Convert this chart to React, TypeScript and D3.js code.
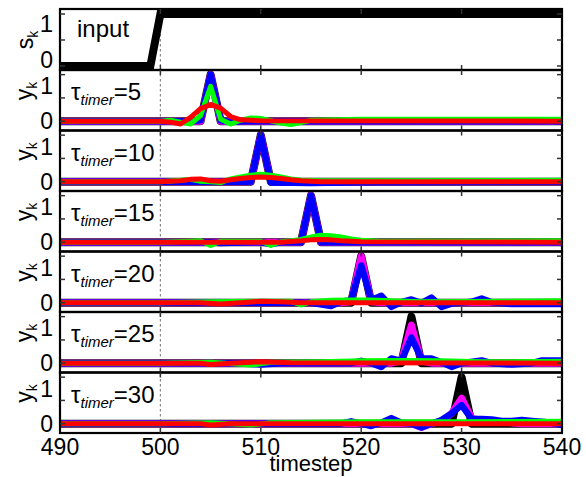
import React from "react";
import * as d3 from "d3";

type P = [number, number];

const taus = [5, 10, 15, 20, 25, 30];
const xTickValues = [490, 500, 510, 520, 530, 540];
const yTickValues = [0, 0.5, 1];

const inputS: P[] = [[490, 0], [499, 0], [500, 1], [540, 1]];

// tau = 5
const black5: P[] = [[490, 0], [504, 0], [505, 1], [506, 0], [540, 0]];
const magenta5: P[] = [[490, 0], [504, 0], [505, 1], [506, 0], [540, 0]];
const blue5: P[] = [[490, 0], [503, 0], [504, 0.02], [505, 1], [506, 0.02], [507, -0.02], [508, 0], [540, 0]];
const green5: P[] = [[490, 0], [500, 0], [501, 0.02], [502, -0.02], [503, -0.06], [504, 0.12], [505, 0.75], [506, 0.04], [507, -0.06], [508, 0.02], [509, 0.07], [510, 0.06], [511, 0.01], [512, -0.04], [513, -0.07], [514, -0.03], [515, 0.02], [520, 0.04], [540, 0.04]];
const red5: P[] = [[490, 0], [500, 0], [501, -0.02], [502, -0.06], [503, 0.08], [504, 0.27], [505, 0.36], [506, 0.28], [507, 0.1], [508, 0.03], [510, 0.01], [540, 0]];

// tau = 10
const black10: P[] = [[490, 0], [509, 0], [510, 1], [511, 0], [540, 0]];
const magenta10: P[] = [[490, 0], [509, 0], [510, 1], [511, 0], [540, 0]];
const blue10: P[] = [[490, 0], [509, 0], [510, 1], [511, -0.02], [515, -0.03], [520, -0.01], [540, 0]];
const green10: P[] = [[490, 0], [500, 0], [502, 0.03], [503, 0.05], [504, 0.01], [505, 0], [506, -0.02], [507, 0.06], [508, 0.1], [509, 0.14], [510, 0.16], [511, 0.14], [512, 0.1], [513, 0.06], [514, 0.03], [516, 0.02], [540, 0.03]];
const red10: P[] = [[490, 0], [500, 0], [502, 0.02], [503, 0.05], [504, 0.06], [505, 0.02], [506, 0.01], [507, 0.04], [508, 0.07], [509, 0.09], [510, 0.1], [511, 0.09], [512, 0.07], [513, 0.04], [514, 0.02], [516, 0], [540, 0]];

// tau = 15
const black15: P[] = [[490, 0], [514, 0], [515, 1], [516, 0], [540, 0]];
const magenta15: P[] = [[490, 0], [514, 0], [515, 1], [516, 0], [540, 0]];
const blue15: P[] = [[490, 0], [505, 0], [506, -0.02], [510, 0], [511, -0.04], [512, 0], [514, 0], [515, 1], [516, 0], [540, 0]];
const green15: P[] = [[490, 0], [500, 0], [503, 0.02], [504, 0.03], [505, -0.07], [506, 0.02], [510, 0.02], [511, -0.07], [512, 0.01], [513, 0.03], [514, 0.06], [515, 0.11], [516, 0.15], [517, 0.14], [518, 0.11], [519, 0.07], [520, 0.04], [522, 0.02], [540, 0.03]];
const red15: P[] = [[490, 0], [512, 0], [514, 0.03], [515, 0.05], [516, 0.06], [517, 0.05], [518, 0.03], [520, 0.01], [540, 0]];

// tau = 20
const black20: P[] = [[490, 0], [519, 0], [520, 1], [521, 0], [540, 0]];
const magenta20: P[] = [[490, 0], [518, 0], [519, 0.02], [520, 1], [521, 0.02], [522, 0], [540, 0]];
const blue20: P[] = [[490, 0], [515, 0], [517, -0.07], [518, 0.02], [519, 0.06], [520, 0.8], [521, 0.06], [522, 0.15], [523, -0.09], [524, 0.01], [525, 0.07], [526, -0.01], [527, 0.11], [528, -0.09], [529, -0.02], [531, 0.02], [532, 0.09], [533, 0.01], [535, -0.03], [540, -0.03]];
const green20: P[] = [[490, 0], [500, 0], [505, 0.02], [510, 0.03], [513, 0.03], [514, -0.05], [515, 0.02], [517, 0.05], [519, 0.06], [521, 0.06], [523, 0.04], [526, 0.02], [540, 0.04]];
const red20: P[] = [[490, 0], [504, 0], [506, -0.03], [508, 0], [510, 0.03], [512, 0.02], [514, 0], [540, 0]];

// tau = 25
const black25: P[] = [[490, 0], [524, 0], [525, 1], [526, 0], [540, 0]];
const magenta25: P[] = [[490, 0], [523, 0], [524, 0.05], [525, 0.82], [526, 0.05], [527, 0], [540, 0]];
const blue25: P[] = [[490, 0], [508, 0], [510, -0.03], [512, 0], [519, 0], [520, 0.05], [521, 0], [522, -0.08], [523, 0.1], [524, 0.05], [525, 0.55], [526, 0.1], [527, 0.1], [528, 0.02], [529, -0.08], [530, 0], [532, 0.06], [533, 0], [535, -0.03], [537, 0], [538, 0.06], [540, 0.06]];
const green25: P[] = [[490, 0], [500, 0], [505, 0.02], [509, -0.04], [511, 0.02], [516, 0.03], [520, 0.05], [524, 0.06], [528, 0.05], [532, 0.03], [540, 0.04]];
const red25: P[] = [[490, 0], [504, 0], [505, -0.03], [507, 0], [510, 0.03], [513, 0.01], [540, 0]];

// tau = 30
const black30: P[] = [[490, 0], [529, 0], [530, 1], [531, 0], [540, 0]];
const magenta30: P[] = [[490, 0], [525, 0], [526, -0.08], [527, 0], [528, 0.06], [529, 0.22], [530, 0.55], [531, 0.12], [532, 0.06], [534, 0.04], [536, 0], [540, 0]];
const blue30: P[] = [[490, 0], [518, 0], [519, 0.05], [520, 0], [521, -0.05], [522, 0.02], [523, 0.12], [524, 0.02], [525, 0], [526, -0.08], [527, 0], [528, 0.08], [529, 0.22], [530, 0.4], [531, 0.1], [532, 0.1], [533, 0.09], [534, 0.06], [535, 0.06], [536, 0.08], [537, 0.06], [538, 0.04], [539, 0.02], [540, -0.03]];
const green30: P[] = [[490, 0], [500, 0], [505, 0.02], [509, -0.03], [511, 0.02], [520, 0.04], [530, 0.04], [540, 0.05]];
const red30: P[] = [[490, 0], [504, 0], [505, -0.03], [507, 0], [540, 0]];

const panelSeries = [
  [black5, magenta5, blue5, green5, red5],
  [black10, magenta10, blue10, green10, red10],
  [black15, magenta15, blue15, green15, red15],
  [black20, magenta20, blue20, green20, red20],
  [black25, magenta25, blue25, green25, red25],
  [black30, magenta30, blue30, green30, red30],
];
const seriesColors = ["#000000", "#ff00ff", "#0000ff", "#00ff00", "#ff0000"];
const seriesWidths = [8, 7, 6.5, 5, 5];

const W = 586;
const H = 477;
const L = 60;
const R = 562;
const FONT = "Liberation Sans, Arial, Helvetica, sans-serif";

export default function App() {
  const x = d3.scaleLinear().domain([490, 540]).range([L, R]);
  const topY0 = 9;
  const topY1 = 70;
  const yTop = d3.scaleLinear().domain([-0.077, 1.096]).range([topY1, topY0]);
  const panelH = 60.5;
  const panels = taus.map((tau, i) => {
    const top = topY1 + i * panelH;
    const bottom = top + panelH;
    const y = d3.scaleLinear().domain([-0.2, 1.1]).range([bottom, top]);
    return { tau, top, bottom, y, series: panelSeries[i] };
  });
  const bottomAxis = panels[panels.length - 1].bottom;

  const inner = xTickValues.filter((t) => t > 490 && t < 540);

  const frame = (top: number, bottom: number, y: d3.ScaleLinear<number, number>, key: string) => (
    <g key={key}>
      <rect x={L} y={top} width={R - L} height={bottom - top} fill="none" stroke="#000" strokeWidth={2.2} />
      {inner.map((t) => (
        <g key={t}>
          <line x1={x(t)} x2={x(t)} y1={top} y2={top + 5} stroke="#333" strokeWidth={1.5} />
          <line x1={x(t)} x2={x(t)} y1={bottom} y2={bottom - 5} stroke="#333" strokeWidth={1.5} />
        </g>
      ))}
      {yTickValues.map((v) => (
        <g key={v}>
          <line x1={L} x2={L + 5} y1={y(v)} y2={y(v)} stroke="#333" strokeWidth={1.5} />
          <line x1={R} x2={R - 5} y1={y(v)} y2={y(v)} stroke="#333" strokeWidth={1.5} />
        </g>
      ))}
    </g>
  );

  return (
    <svg width={W} height={H} style={{ position: "absolute", left: 0, top: 0, background: "#fff" }} fontFamily={FONT}>
      <rect width={W} height={H} fill="#fff" />
      <defs>
        <clipPath id="clip-top">
          <rect x={L} y={topY0} width={R - L} height={topY1 - topY0} />
        </clipPath>
        {panels.map((p, i) => (
          <clipPath id={`clip-${i}`} key={i}>
            <rect x={L} y={p.top} width={R - L} height={p.bottom - p.top} />
          </clipPath>
        ))}
      </defs>

      {/* dashed marker at t = 500 */}
      <line x1={x(500)} x2={x(500)} y1={topY0} y2={bottomAxis} stroke="#888" strokeWidth={1.2} strokeDasharray="2.5,2.5" />

      {/* input panel */}
      <g clipPath="url(#clip-top)">
        <path
          d={d3.line<P>().x((d) => x(d[0])).y((d) => yTop(d[1]))(inputS) || ""}
          fill="none"
          stroke="#000"
          strokeWidth={8}
          strokeLinejoin="miter"
        />
      </g>
      {frame(topY0, topY1, yTop, "ftop")}
      <text x={77} y={37} fontSize={24} fill="#000">input</text>
      <text x={53} y={32} fontSize={24} textAnchor="end">1</text>
      <text x={53} y={68} fontSize={23} textAnchor="end">0</text>
      <text transform={`translate(33,40) rotate(-90)`} fontSize={23} textAnchor="middle">
        s<tspan fontSize={14} dy={5}>k</tspan>
      </text>

      {panels.map((p, i) => {
        const line = d3.line<P>().x((d) => x(d[0])).y((d) => p.y(d[1]));
        return (
          <g key={`p${i}`}>
            <g clipPath={`url(#clip-${i})`}>
              {p.series.map((s, j) => (
                <path
                  key={j}
                  d={line(s) || ""}
                  fill="none"
                  stroke={seriesColors[j]}
                  strokeWidth={seriesWidths[j]}
                  strokeLinejoin="round"
                  strokeLinecap="round"
                />
              ))}
            </g>
            {frame(p.top, p.bottom, p.y, `f${i}`)}
            <text x={53} y={p.top + 24} fontSize={23} textAnchor="end">1</text>
            <text x={53} y={p.top + 59} fontSize={23} textAnchor="end">0</text>
            <text transform={`translate(32,${p.top + 21}) rotate(-90)`} fontSize={23} textAnchor="middle">
              y<tspan fontSize={14} dy={5}>k</tspan>
            </text>
            <text x={71} y={p.top + 30} fontSize={24} fill="#000">
              τ<tspan fontSize={15} fontStyle="italic" dy={5}>timer</tspan>
              <tspan dy={-5}>={p.tau}</tspan>
            </text>
          </g>
        );
      })}

      {xTickValues.map((t) => (
        <text key={t} x={x(t)} y={455} fontSize={23} textAnchor="middle">{t}</text>
      ))}
      <text x={(L + R) / 2} y={471} fontSize={22} textAnchor="middle">timestep</text>
    </svg>
  );
}
